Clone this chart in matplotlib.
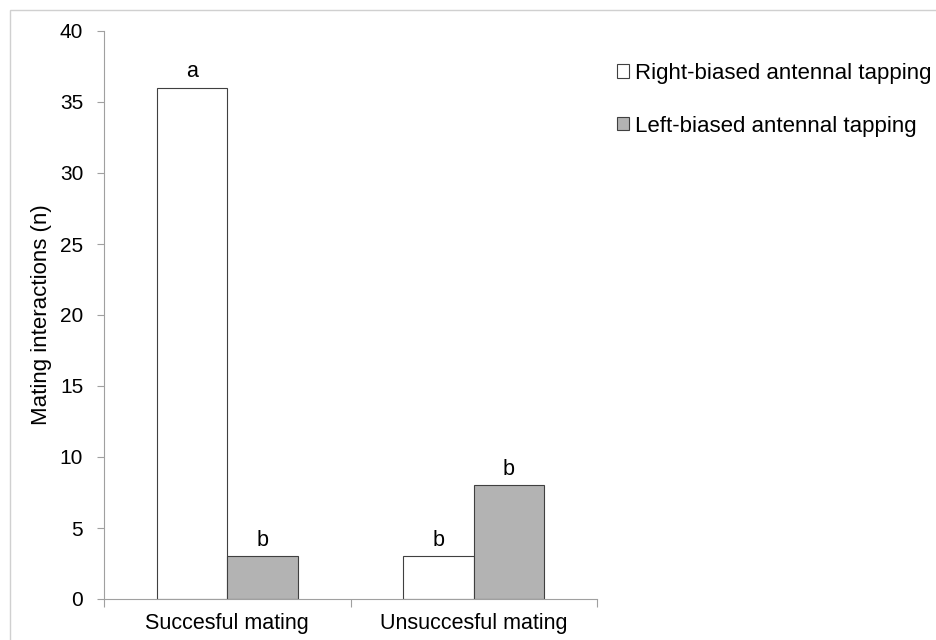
import numpy as np
import matplotlib.pyplot as plt
from matplotlib.patches import Rectangle

plt.rcParams['font.family'] = ['Liberation Sans', 'DejaVu Sans']

# data
categories = ['Succesful mating', 'Unsuccesful mating']
right_biased = [36, 3]
left_biased = [3, 8]
right_letters = ['a', 'b']
left_letters = ['b', 'b']
series_names = ['Right-biased antennal tapping', 'Left-biased antennal tapping']

fig = plt.figure(figsize=(9.36, 6.4), dpi=100)
ax = fig.add_axes([104 / 936, 1 - 599 / 640, (597 - 104) / 936, (599 - 31) / 640])

# light frame round the chart
fig.patches.append(Rectangle((10 / 936, -0.1), 1.1, 1 - 10 / 640 + 0.1,
                             transform=fig.transFigure, fill=False,
                             edgecolor='#d0d0d0', linewidth=1))

x = np.arange(len(categories))
w = 0.286
b1 = ax.bar(x - w / 2, right_biased, w, color='white', edgecolor='#404040', linewidth=0.8)
b2 = ax.bar(x + w / 2, left_biased, w, color='#b3b3b3', edgecolor='#404040', linewidth=0.8)

# significance letters
for xi, v, t in zip(x - w / 2, right_biased, right_letters):
    ax.text(xi, v + 0.75, t, ha='center', va='baseline', fontsize=15.5)
for xi, v, t in zip(x + w / 2, left_biased, left_letters):
    ax.text(xi, v + 0.75, t, ha='center', va='baseline', fontsize=15.5)

ax.set_xlim(-0.5, 1.5)
ax.set_ylim(0, 40)
ax.set_yticks(range(0, 41, 5))
ax.set_xticks([-0.5, 0.5, 1.5])
ax.set_xticklabels([])
ax.set_xticks(x, minor=True)
ax.set_xticklabels(categories, minor=True)
ax.tick_params(axis='x', which='minor', length=0, labelsize=15.5, pad=10)
ax.tick_params(axis='x', which='major', length=6, color='#a0a0a0', direction='out')
ax.tick_params(axis='y', length=5, color='#a0a0a0', labelsize=15, pad=10)

for s in ['top', 'right']:
    ax.spines[s].set_visible(False)
for s in ['left', 'bottom']:
    ax.spines[s].set_color('#a0a0a0')

ax.set_ylabel('Mating interactions (n)', fontsize=16)
ax.yaxis.set_label_coords(-52 / 493, 0.5)

fig.legend([b1, b2], series_names, loc='upper left',
           bbox_to_anchor=(617 / 936, 1 - 63 / 640), frameon=False,
           fontsize=16, handlelength=0.55, handleheight=0.55,
           handletextpad=0.25, labelspacing=1.42, borderaxespad=0,
           borderpad=0)

fig.savefig('out.png', dpi=100)
